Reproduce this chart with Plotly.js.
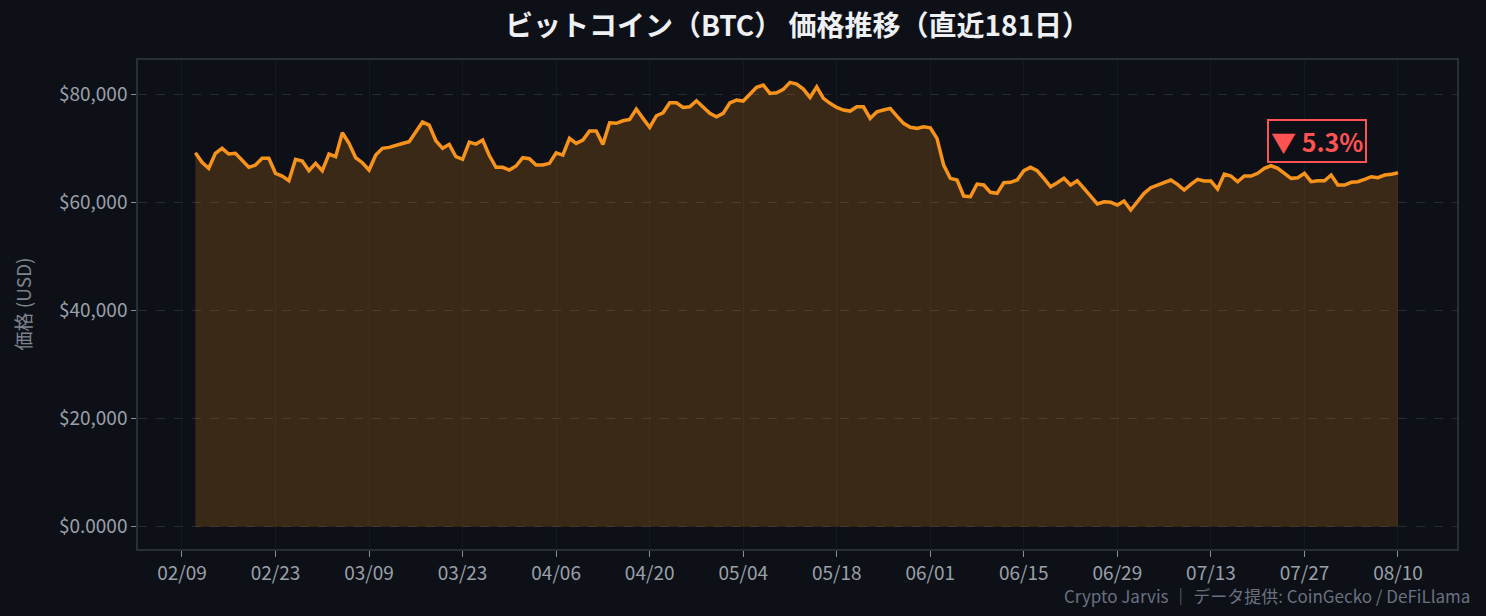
<!DOCTYPE html>
<html>
<head>
<meta charset="utf-8">
<script src="https://cdn.plot.ly/plotly-3.0.1.min.js"></script>
<style>
  html, body { margin: 0; padding: 0; background: #0d1017; }
  #chart { width: 1486px; height: 616px; }
</style>
</head>
<body>
<div id="chart"></div>
<script>
// 181 daily closes, 2025-02-11 .. 2025-08-10
const startDate = '2025-02-11';
const prices = [
  69160, 67380, 66270, 69045, 69970, 68915, 69045, 67810, 66460, 66880,
  68120, 68120, 65350, 64850, 63980, 67935, 67620, 65830, 67200, 65830,
  68915, 68420, 72850, 70890, 68230, 67310, 65960, 68730, 69970, 70150,
  70580, 70855, 71190, 73110, 74830, 74275, 71375, 69970, 70710, 68420,
  67935, 71130, 70760, 71500, 68640, 66460, 66460, 65960, 66700, 68230,
  68050, 66880, 66880, 67200, 69155, 68730, 71815, 70890, 71500, 73165,
  73165, 70700, 74700, 74590, 75070, 75330, 77230, 75510, 73850, 75990,
  76550, 78390, 78390, 77540, 77650, 78760, 77540, 76435, 75810, 76435,
  78390, 78890, 78710, 80000, 81240, 81660, 80130, 80240, 80870, 82160,
  81850, 80925, 79390, 81350, 79210, 78285, 77540, 77045, 76860, 77655,
  77655, 75510, 76730, 77045, 77360, 75935, 74590, 73850, 73665, 73960,
  73775, 71815, 66880, 64425, 64110, 61155, 61025, 63370, 63190, 61840,
  61655, 63615, 63690, 64110, 65830, 66460, 65830, 64425, 62875, 63615,
  64425, 63190, 63980, 62580, 61025, 59680, 60100, 59990, 59490, 60230,
  58570, 59990, 61655, 62690, 63190, 63690, 64110, 63320, 62265, 63320,
  64240, 63930, 63930, 62450, 65220, 64850, 63800, 64850, 64850, 65350,
  66270, 66750, 66270, 65350, 64425, 64540, 65350, 63800, 63980, 63980,
  65035, 63190, 63190, 63690, 63800, 64240, 64720, 64540, 65035, 65165,
  65460
];

const xTickVals = ['2025-02-09', '2025-02-23', '2025-03-09', '2025-03-23', '2025-04-06',
  '2025-04-20', '2025-05-04', '2025-05-18', '2025-06-01', '2025-06-15', '2025-06-29',
  '2025-07-13', '2025-07-27', '2025-08-10'];
const xTickText = ['02/09', '02/23', '03/09', '03/23', '04/06', '04/20', '05/04',
  '05/18', '06/01', '06/15', '06/29', '07/13', '07/27', '08/10'];
const yTickVals = [0, 20000, 40000, 60000, 80000];
const yTickText = ['$0.0000', '$20,000', '$40,000', '$60,000', '$80,000'];

const changeLabel = '▼ 5.3%';
const changeAt = { x: '2025-07-28 06:00', y: 71300 };

// build the date axis
const dates = [];
const d0 = new Date(startDate + 'T00:00:00Z');
for (let i = 0; i < prices.length; i++) {
  const d = new Date(d0.getTime() + i * 86400000);
  dates.push(d.toISOString().slice(0, 10));
}

const font = '"Noto Sans CJK JP", "Noto Sans", sans-serif';

Plotly.newPlot('chart', [
  {
    x: dates,
    y: prices,
    type: 'scatter',
    mode: 'lines',
    fill: 'tozeroy',
    fillcolor: 'rgba(247,147,26,0.2)',
    line: { color: '#f7931a', width: 3.5 },
    hoverinfo: 'x+y'
  }
], {
  width: 1486,
  height: 616,
  paper_bgcolor: '#0d1017',
  plot_bgcolor: '#0d1017',
  margin: { l: 138, r: 29, t: 60, b: 67 },
  showlegend: false,
  font: { family: font, color: '#9aa0a9' },
  title: {
    text: '<b>ビットコイン（BTC） 価格推移（直近181日）</b>',
    font: { family: font, size: 28, color: '#eef0f3' },
    x: 0.5, xref: 'paper', y: 0.958, yref: 'container', yanchor: 'middle'
  },
  xaxis: {
    type: 'date',
    range: ['2025-02-02 10:00', '2025-08-18 20:00'],
    tickvals: xTickVals,
    ticktext: xTickText,
    tickfont: { size: 19, color: '#9aa0a9' },
    ticks: 'outside', ticklen: 6, tickcolor: '#8b8f99', tickwidth: 1,
    showgrid: true, gridcolor: '#141821', gridwidth: 1,
    showline: true, linecolor: '#2a2e38', linewidth: 1.5, mirror: true,
    zeroline: false
  },
  yaxis: {
    range: [-4100, 86300],
    tickvals: yTickVals,
    ticktext: yTickText,
    tickfont: { size: 19, color: '#9aa0a9' },
    ticks: 'outside', ticklen: 5, tickcolor: '#8b8f99', tickwidth: 1,
    showgrid: true, gridcolor: '#262a33', griddash: 'dash', gridwidth: 1,
    showline: true, linecolor: '#2a2e38', linewidth: 1.5, mirror: true,
    zeroline: false
  },
  annotations: [
    {
      x: 0, y: 0.5, xref: 'paper', yref: 'paper', xshift: -116,
      xanchor: 'center', yanchor: 'middle',
      text: '価格 (USD)', textangle: -90, showarrow: false,
      font: { family: font, size: 19, color: '#7f838d' }
    },
    {
      x: changeAt.x, y: changeAt.y, xref: 'x', yref: 'y', xshift: 4,
      text: '<b>' + changeLabel + '</b>',
      showarrow: false,
      font: { family: font, size: 25, color: '#ff5252' },
      bgcolor: '#0d1017', bordercolor: '#ff5252', borderwidth: 2, borderpad: 2
    },
    {
      x: 1, y: 0, xref: 'paper', yref: 'paper', xanchor: 'right', yanchor: 'middle',
      xshift: 15, yshift: -46,
      text: 'Crypto Jarvis ｜ データ提供: CoinGecko / DeFiLlama',
      showarrow: false,
      font: { family: font, size: 17, color: '#6b7080' }
    }
  ]
}, { displayModeBar: false });
</script>
</body>
</html>
